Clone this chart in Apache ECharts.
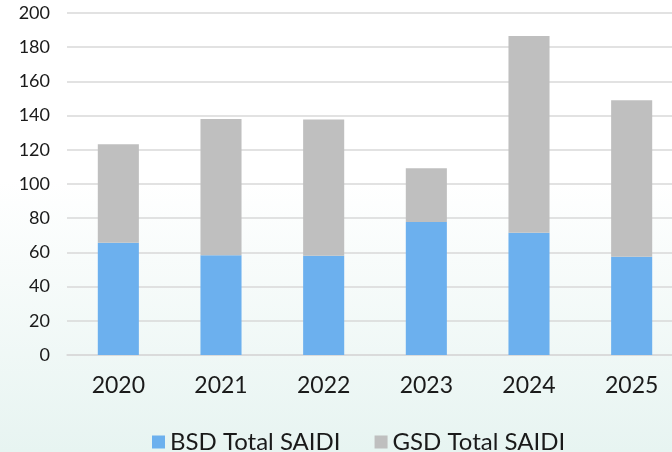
<!DOCTYPE html>
<html>
<head>
<meta charset="utf-8">
<script src="https://cdn.jsdelivr.net/npm/echarts@6/dist/echarts.min.js"></script>
<style>
  html, body { margin: 0; padding: 0; overflow: hidden; }
  /* canvas a little wider than the window so the plot runs off the right edge */
  #chart { width: 690px; height: 452px; }
</style>
</head>
<body>
<div id="chart"></div>
<script>
const years = ['2020', '2021', '2022', '2023', '2024', '2025']
const bsdSaidi = [65.7, 58.3, 58.1, 77.8, 71.5, 57.5]
const gsdSaidi = [57.5, 79.7, 79.6, 31.4, 115.0, 91.5]
const yTicks = { min: 0, max: 200, interval: 20 }

const chart = echarts.init(document.getElementById('chart'))

chart.setOption({
  // light mint wash towards the bottom
  backgroundColor: new echarts.graphic.LinearGradient(0, 0, 0, 1, [
    { offset: 0, color: '#ffffff' },
    { offset: 0.4, color: '#ffffff' },
    { offset: 1, color: '#e7f4f1' }
  ]),
  textStyle: { fontFamily: 'Lato' },
  grid: { left: 67, right: 7, top: 13, bottom: 97, containLabel: false },
  legend: {
    left: 147,
    top: 425,
    itemWidth: 13,
    itemHeight: 13,
    itemGap: 34,
    icon: 'rect',
    textStyle: { fontSize: 24, color: '#1a1a1a', fontFamily: 'Lato' },
    data: ['BSD Total SAIDI', 'GSD Total SAIDI']
  },
  xAxis: {
    type: 'category',
    data: years,
    axisLine: { lineStyle: { color: '#d9d9d9', width: 1.5 } },
    axisTick: { show: false },
    axisLabel: { fontSize: 23, color: '#1a1a1a', margin: 19 }
  },
  yAxis: {
    type: 'value',
    min: yTicks.min,
    max: yTicks.max,
    interval: yTicks.interval,
    axisLine: { show: false },
    axisTick: { show: false },
    axisLabel: { fontSize: 18, color: '#1a1a1a', margin: 17 },
    splitLine: { lineStyle: { color: '#d9d9d9', width: 1.5 } }
  },
  series: [
    {
      name: 'BSD Total SAIDI',
      type: 'bar',
      stack: 'saidi',
      data: bsdSaidi,
      barWidth: '40%',
      itemStyle: { color: '#6cb0ee' }
    },
    {
      name: 'GSD Total SAIDI',
      type: 'bar',
      stack: 'saidi',
      data: gsdSaidi,
      barWidth: '40%',
      itemStyle: { color: '#bfbfbf' }
    }
  ]
})
</script>
</body>
</html>
